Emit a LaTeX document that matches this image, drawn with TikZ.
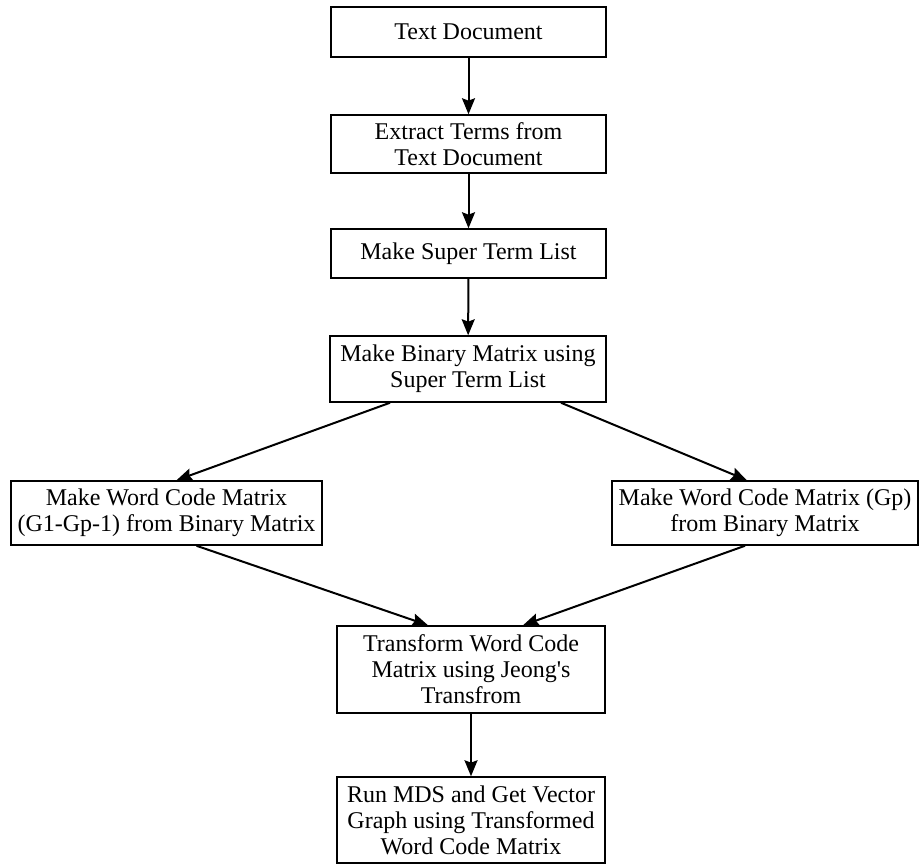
\documentclass[tikz,border=0pt]{standalone}
\usepackage{fontspec}
\setmainfont{Liberation Serif}
\usetikzlibrary{arrows.meta,positioning}

\begin{document}
\begin{tikzpicture}[
    x=0.5pt, y=-0.5pt,
    stage/.style={draw, line width=0.75pt, align=center, inner sep=0pt, font=\fontsize{12}{13}\selectfont},
    arrow/.style={-{Stealth[length=8pt, width=6.5pt, inset=1.2pt]}, line width=1pt}
  ]
    \useasboundingbox (0,0) rectangle (920,864);
    \node[stage, minimum width=137.5pt, minimum height=25pt] (doc) at (468.5,32) {Text Document};
    \node[stage, minimum width=137.5pt, minimum height=29pt] (extract) at (468.5,144) {Extract Terms from\\Text Document};
    \node[stage, minimum width=137.5pt, minimum height=24.5pt] (superlist) at (468.5,253.5) {Make Super Term List};
    \node[stage, minimum width=138pt, minimum height=33pt] (binary) at (468,369) {Make Binary Matrix using\\Super Term List};
    \node[stage, minimum width=155.5pt, minimum height=32pt] (codeleft) at (166.5,513) {Make Word Code Matrix\\(G1-Gp-1) from Binary Matrix};
    \node[stage, minimum width=153pt, minimum height=32pt] (coderight) at (765,513) {Make Word Code Matrix (Gp)\\from Binary Matrix};
    \node[stage, minimum width=134pt, minimum height=43.5pt] (transform) at (471,669.5) {Transform Word Code\\Matrix using Jeong\textquotesingle s\\Transfrom};
    \node[stage, minimum width=134pt, minimum height=43pt] (mds) at (471,820) {Run MDS and Get Vector\\Graph using Transformed\\Word Code Matrix};
    \draw[arrow] (doc) -- (extract);
    \draw[arrow] (extract) -- (superlist);
    \draw[arrow] (superlist) -- (binary);
    \draw[arrow] ([xshift=-39pt]binary.south) -- ([xshift=5pt]codeleft.north);
    \draw[arrow] ([xshift=46.5pt]binary.south) -- ([xshift=-9pt]coderight.north);
    \draw[arrow] ([xshift=15pt]codeleft.south) -- ([xshift=-21.5pt]transform.north);
    \draw[arrow] ([xshift=-10pt]coderight.south) -- ([xshift=26pt]transform.north);
    \draw[arrow] (transform) -- (mds);
  \end{tikzpicture}
\end{document}
